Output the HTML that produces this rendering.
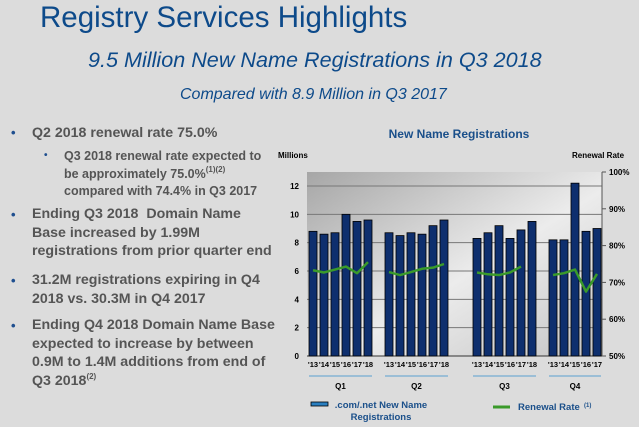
<!DOCTYPE html>
<html><head><meta charset="utf-8"><style>
body{margin:0;width:639px;height:427px;background:#dcdcdc;font-family:"Liberation Sans",sans-serif;position:relative;overflow:hidden}
.a{position:absolute;white-space:nowrap}
.t{left:40px;top:1px;font-size:29.5px;color:#0d4a8a}
.s1{left:88px;top:47px;font-size:21.6px;font-style:italic;color:#0d4a8a}
.s2{left:180px;top:86px;font-size:16px;font-style:italic;color:#0d4a8a}
.b{font-weight:bold;color:#555;font-size:14.2px;line-height:18.5px}
.dot{color:#1f4f8f;font-size:13px;font-weight:bold}
sup{font-size:8px;line-height:0;vertical-align:6px}
</style></head><body>
<div class="a t">Registry Services Highlights</div>
<div class="a s1">9.5 Million New Name Registrations in Q3 2018</div>
<div class="a s2">Compared with 8.9 Million in Q3 2017</div>
<div class="a dot" style="left:11px;top:125px">•</div>
<div class="a b" style="left:32px;top:124px">Q2 2018 renewal rate 75.0%</div>
<div class="a dot" style="left:44px;top:150px;font-size:10px">•</div>
<div class="a b" style="left:64px;top:148px;font-size:12.5px;line-height:17.5px">Q3 2018 renewal rate expected to<br>be approximately 75.0%<sup>(1)(2)</sup><br>compared with 74.4% in Q3 2017</div>
<div class="a dot" style="left:11px;top:207px">•</div>
<div class="a b" style="left:32px;top:205px">Ending Q3 2018&nbsp; Domain Name<br>Base increased by 1.99M<br>registrations from prior quarter end</div>
<div class="a dot" style="left:11px;top:273px">•</div>
<div class="a b" style="left:32px;top:271px">31.2M registrations expiring in Q4<br>2018 vs. 30.3M in Q4 2017</div>
<div class="a dot" style="left:11px;top:318px">•</div>
<div class="a b" style="left:32px;top:316px">Ending Q4 2018 Domain Name Base<br>expected to increase by between<br>0.9M to 1.4M additions from end of<br>Q3 2018<sup>(2)</sup></div>
<svg id="c" class="a" style="left:0;top:0" width="639" height="427">
<defs><linearGradient id="g" x1="0" y1="0" x2="1" y2="1"><stop offset="0" stop-color="#a6a6a6"/><stop offset="0.55" stop-color="#ececec"/><stop offset="1" stop-color="#c4c4c4"/></linearGradient></defs>
</svg>
<script>
const categories=["Q1","Q2","Q3","Q4"];
const yearLabels=[["'13","'14","'15","'16","'17","'18"],["'13","'14","'15","'16","'17","'18"],["'13","'14","'15","'16","'17","'18"],["'13","'14","'15","'16","'17"]];
const registrations=[[8.8,8.6,8.7,10.0,9.5,9.6],[8.7,8.5,8.7,8.6,9.2,9.6],[8.3,8.7,9.2,8.3,8.9,9.5],[8.2,8.2,12.2,8.8,9.0]];
const renewalRate=[[73.3,72.7,73.5,74.3,72.5,75.5],[72.8,72.0,72.8,73.7,74.0,75.0],[72.7,72.2,72.0,72.7,74.3],[72.0,72.5,73.5,67.5,72.3]];
const leftTicks=[0,2,4,6,8,10,12];
const rightTicks=["50%","60%","70%","80%","90%","100%"];
const NS="http://www.w3.org/2000/svg",svg=document.getElementById('c');
const X0=307,X1=602,Y0=356,YT=172;
const y=v=>Y0-v*(Y0-186)/12;
const yr=p=>Y0-(p-50)*(Y0-YT)/50;
const groupStart=[309,385,473,549],pitch=11,bw=8;
const bx=(g,i)=>groupStart[g]+i*pitch;
function el(t,a,txt){const e=document.createElementNS(NS,t);for(const k in a)e.setAttribute(k,a[k]);if(txt!=null)e.textContent=txt;svg.appendChild(e);return e;}
let e=el('rect',{x:X0,y:YT,width:X1-X0,height:Y0-YT,fill:'url(#g)'});

leftTicks.forEach(v=>{
 if(v>0){const l=el('line',{x1:X0,x2:X1,y1:y(v),y2:y(v),stroke:'#777','stroke-width':1});}
 const t=el('text',{x:X0-8,y:y(v)+3,'font-size':8,'font-weight':'bold','text-anchor':'end',fill:'#000'},v);
 
});
el('line',{x1:X1,x2:X1,y1:YT,y2:Y0,stroke:'#555'});
el('line',{x1:X0,x2:X1,y1:Y0,y2:Y0,stroke:'#333'});
rightTicks.forEach((s,i)=>{const p=50+i*10;el('line',{x1:X1,x2:X1+4,y1:yr(p),y2:yr(p),stroke:'#555'});
 const t=el('text',{x:X1+7,y:yr(p)+3,'font-size':8,'font-weight':'bold',fill:'#000'},s);
 });
let t=el('text',{x:278,y:158,'font-size':8,'font-weight':'bold'},'Millions');
t=el('text',{x:572,y:158,'font-size':8,'font-weight':'bold'},'Renewal Rate');
t=el('text',{x:459,y:138,'font-size':12,'font-weight':'bold',fill:'#1a4f8a','text-anchor':'middle'},'New Name Registrations');
registrations.forEach((arr,g)=>{
 arr.forEach((v,i)=>{const r=el('rect',{x:bx(g,i),y:y(v),width:bw,height:Y0-y(v),fill:'#0e2f6e',stroke:'#000','stroke-width':0.8});
  
  const l=el('text',{x:bx(g,i)+bw/2,y:367,'font-size':7.5,'font-weight':'bold','text-anchor':'middle'},yearLabels[g][i]);
  });
 const n=arr.length,xa=bx(g,0),xb=bx(g,n-1)+bw;
 el('line',{x1:xa,x2:xb,y1:376,y2:376,stroke:'#5a9fd0','stroke-width':1});
 const q=el('text',{x:(xa+xb)/2,y:389,'font-size':8,'font-weight':'bold','text-anchor':'middle'},categories[g]);
 
});
renewalRate.forEach((arr,g)=>{
 const pts=arr.map((p,i)=>(bx(g,i)+bw/2)+','+yr(p)).join(' ');
 const pl=el('polyline',{points:pts,fill:'none',stroke:'#3a9a2a','stroke-width':2.5,'stroke-linejoin':'round'});
 
});
let r=el('rect',{x:311,y:402,width:17,height:4,fill:'#2a7fc0',stroke:'#000','stroke-width':0.8});
t=el('text',{x:381,y:408,'font-size':9.5,'font-weight':'bold',fill:'#1a4f8a','text-anchor':'middle'},'.com/.net New Name');
el('text',{x:381,y:420,'font-size':9.5,'font-weight':'bold',fill:'#1a4f8a','text-anchor':'middle'},'Registrations');
el('line',{x1:493,x2:510,y1:407,y2:407,stroke:'#3a9a2a','stroke-width':3});
t=el('text',{x:518,y:410,'font-size':9.5,'font-weight':'bold',fill:'#1a4f8a'},'Renewal Rate');
el('text',{x:584,y:407,'font-size':6,'font-weight':'bold',fill:'#1a4f8a'},'(1)');
</script>
</body></html>
